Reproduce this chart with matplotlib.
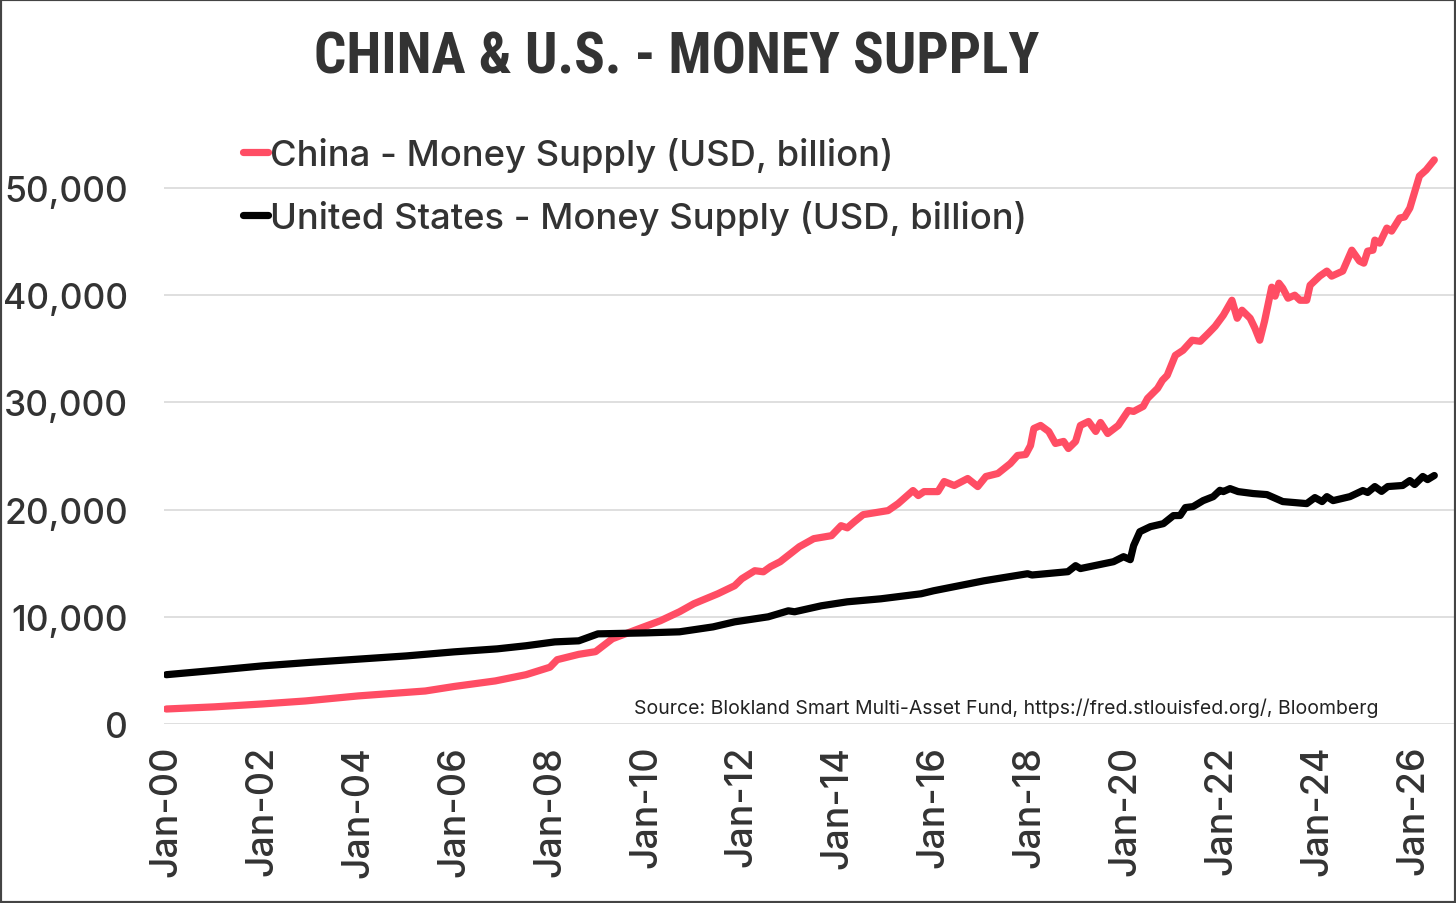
import matplotlib
matplotlib.use("Agg")
import matplotlib.pyplot as plt
from matplotlib import font_manager
from matplotlib.patches import Rectangle

# China money supply, USD billion (decimal year, value)
china_years = [
    2000.0, 2001.0, 2002.0, 2002.9, 2004.0, 2005.4, 2006.0, 2006.86, 2007.5,
    2008.0, 2008.15, 2008.6, 2008.95, 2009.3, 2009.85, 2010.3, 2010.7, 2011.0,
    2011.5, 2011.85, 2012.0, 2012.27, 2012.45, 2012.6, 2012.8, 2013.2, 2013.5,
    2013.87, 2014.07, 2014.2, 2014.35, 2014.53, 2015.05, 2015.26, 2015.57,
    2015.68, 2015.8, 2016.09, 2016.22, 2016.43, 2016.71, 2016.92, 2017.09,
    2017.34, 2017.6, 2017.75, 2017.92, 2018.02, 2018.09, 2018.23, 2018.4,
    2018.54, 2018.71, 2018.81, 2018.96, 2019.06, 2019.23, 2019.38, 2019.48,
    2019.63, 2019.85, 2020.06, 2020.17, 2020.37, 2020.46, 2020.67, 2020.77,
    2020.87, 2021.04, 2021.2, 2021.39, 2021.56, 2021.73, 2021.87, 2022.04,
    2022.22, 2022.33, 2022.43, 2022.6, 2022.7, 2022.8, 2022.9, 2023.05,
    2023.12, 2023.2, 2023.28, 2023.39, 2023.53, 2023.64, 2023.78, 2023.85,
    2024.05, 2024.2, 2024.3, 2024.53, 2024.72, 2024.88, 2024.97, 2025.05,
    2025.16, 2025.2, 2025.3, 2025.45, 2025.55, 2025.72, 2025.82, 2025.93,
    2026.13, 2026.27, 2026.44,
]
china_values = [
    1400, 1600, 1870, 2150, 2620, 3080, 3500, 4020, 4600,
    5300, 6000, 6500, 6750, 7950, 8880, 9630, 10470, 11220,
    12150, 12900, 13550, 14300, 14200, 14680, 15140, 16540, 17290,
    17570, 18500, 18300, 18880, 19530, 19910, 20560, 21780,
    21310, 21680, 21680, 22620, 22250, 22900, 22150, 23090,
    23370, 24300, 25050, 25140, 25980, 27570, 27850, 27290,
    26170, 26360, 25700, 26360, 27850, 28220, 27290, 28130,
    27100, 27850, 29250, 29160, 29630, 30370, 31310, 32060,
    32520, 34390, 34860, 35800, 35700, 36450, 37100, 38130,
    39530, 37850, 38600, 37850, 36920, 35800, 37570, 40750,
    39910, 41120, 40650, 39720, 40000, 39530, 39530, 40930,
    41780, 42250, 41780, 42250, 44200, 43180, 42990, 44110,
    44200, 45140, 44860, 46260, 45980, 47200, 47300, 48130,
    51120, 51680, 52620,
]

# United States money supply, USD billion
us_years = [
    2000.0, 2001.0, 2002.0, 2003.0, 2004.1, 2005.0, 2006.0, 2006.9, 2007.5,
    2008.1, 2008.6, 2009.0, 2010.0, 2010.7, 2011.4, 2011.85, 2012.55, 2012.97,
    2013.1, 2013.66, 2014.2, 2014.9, 2015.74, 2016.0, 2017.05, 2017.96,
    2018.05, 2018.8, 2018.96, 2019.06, 2019.75, 2019.96, 2020.1, 2020.17,
    2020.3, 2020.52, 2020.79, 2021.0, 2021.14, 2021.25, 2021.41, 2021.62,
    2021.83, 2021.97, 2022.04, 2022.18, 2022.35, 2022.66, 2022.95, 2023.28,
    2023.78, 2023.95, 2024.1, 2024.2, 2024.33, 2024.68, 2024.95, 2025.05,
    2025.2, 2025.34, 2025.47, 2025.78, 2025.93, 2026.03, 2026.2, 2026.3,
    2026.44,
]
us_values = [
    4600, 5000, 5420, 5750, 6080, 6350, 6730, 7010, 7300,
    7660, 7760, 8410, 8500, 8600, 9060, 9530, 10000, 10560,
    10470, 11030, 11400, 11680, 12150, 12430, 13360, 14020,
    13900, 14210, 14770, 14500, 15140, 15610, 15330, 16640,
    17940, 18410, 18690, 19440, 19450, 20190, 20280, 20840,
    21210, 21800, 21680, 21960, 21680, 21500, 21400, 20750,
    20560, 21120, 20750, 21210, 20840, 21210, 21780, 21600,
    22150, 21700, 22150, 22250, 22710, 22340, 23090, 22800,
    23180,
]

tick_years = list(range(2000, 2027, 2))
tick_labels = ["Jan-%02d" % (y % 100) for y in tick_years]
y_ticks = [0, 10000, 20000, 30000, 40000, 50000]

RED = "#FF4D64"
TEXT = "#333333"
plt.rcParams["font.family"] = ["Inter", "DejaVu Sans"]

# pick the narrowest bold face we have for the title
names = {f.name for f in font_manager.fontManager.ttflist}
title_font = dict(family=["DejaVu Sans"], fontstretch="condensed", fontsize=35)
if "Roboto Condensed" in names:
    title_font = dict(family=["Roboto Condensed"], fontsize=41)
elif "Liberation Sans Narrow" in names:
    title_font = dict(family=["Liberation Sans Narrow"], fontsize=38)

fig = plt.figure(figsize=(14.56, 9.04), dpi=100)
ax = fig.add_axes([0.1126, 0.198, 0.886, 0.67])

ax.plot(china_years, china_values, color=RED, lw=5.2,
        solid_capstyle="round", solid_joinstyle="round",
        label="China - Money Supply (USD, billion)")
ax.plot(us_years, us_values, color="black", lw=5.2,
        solid_capstyle="round", solid_joinstyle="round",
        label="United States - Money Supply (USD, billion)")

ax.set_xlim(1999.95, 2026.85)
ax.set_ylim(0, 56500)
ax.set_xticks(tick_years)
ax.set_xticklabels(tick_labels, rotation=90)
ax.set_yticks(y_ticks)
ax.set_yticklabels(["{:,}".format(v) for v in y_ticks])
ax.tick_params(axis="both", length=0, colors=TEXT)
ax.tick_params(axis="x", labelsize=27, pad=15)
ax.tick_params(axis="y", labelsize=25.5, pad=26)
for lbl in ax.get_xticklabels() + ax.get_yticklabels():
    lbl.set_fontweight("medium")
ax.grid(axis="y", color="#D9D9D9", lw=1.2)
ax.set_axisbelow(True)
for s in ax.spines.values():
    s.set_visible(False)

leg = fig.legend(loc="upper left", bbox_to_anchor=(243 / 1456, 1 - 138 / 904),
                 frameon=False, prop=dict(size=26.2, weight="medium"),
                 handlelength=0.7, handletextpad=0.05, labelspacing=0.76,
                 borderpad=0, borderaxespad=0)
for t in leg.get_texts():
    t.set_color(TEXT)

fig.text(0.465, 1 - 58 / 904, "CHINA & U.S. - MONEY SUPPLY",
         weight="bold", color=TEXT, ha="center", va="center", **title_font)

fig.text(1378 / 1456, 1 - 708 / 904,
         "Source: Blokland Smart Multi-Asset Fund, https://fred.stlouisfed.org/, Bloomberg",
         fontsize=14, color="#222222", ha="right", va="center")

fig.patches.append(Rectangle((0, 0), 1, 1, transform=fig.transFigure,
                             fill=False, edgecolor="#444444", lw=3))

fig.savefig("out.png", dpi=100)
